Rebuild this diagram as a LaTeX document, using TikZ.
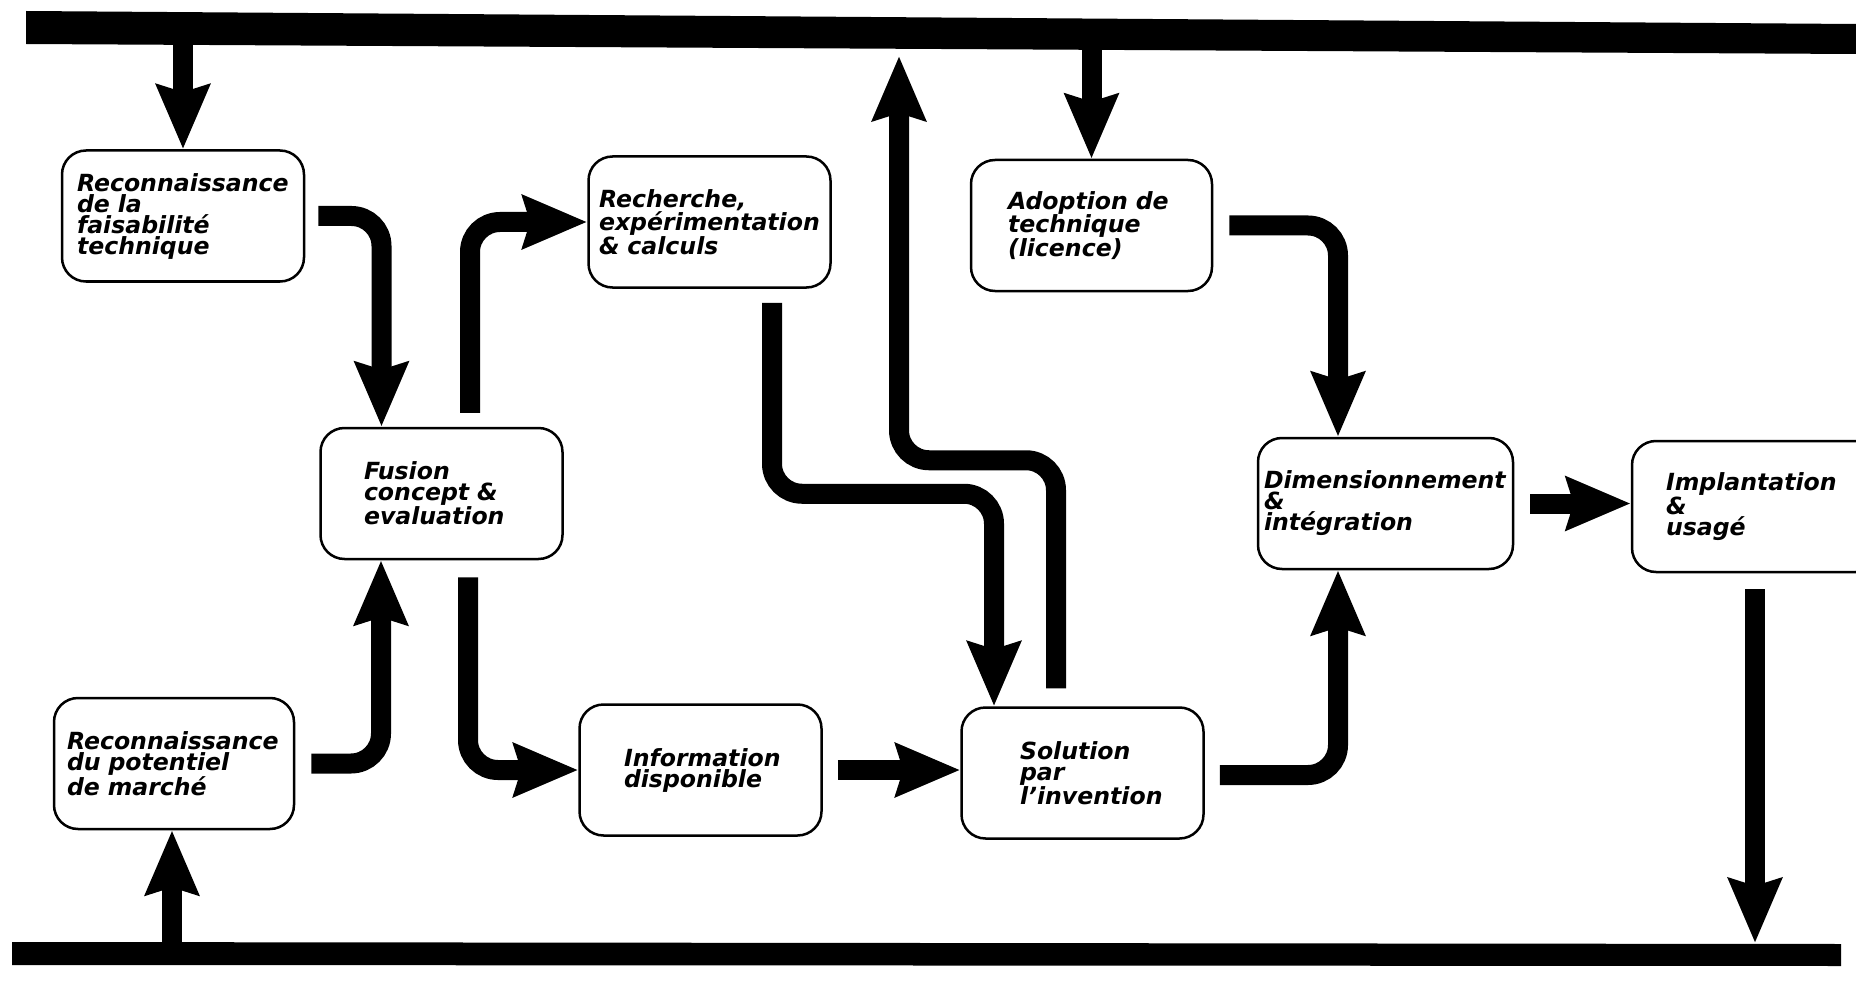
\documentclass[tikz,border=0pt]{standalone}
\usepackage{fontspec}
\setmainfont{DejaVu Sans}
\usetikzlibrary{arrows.meta}
\hyphenpenalty=10000
\exhyphenpenalty=10000
\begin{document}
\begin{tikzpicture}[x=1pt,y=-1pt,
  box/.style={draw, line width=2.5pt, rounded corners=24pt, minimum width=242pt,
    minimum height=131pt, inner sep=0pt, align=left,
    font=\fontsize{23.6}{21}\selectfont\bfseries\itshape},
  flow/.style={line width=20pt, rounded corners=30pt,
    -{Stealth[length=64pt,width=52pt,inset=7pt]}}]
\useasboundingbox (0,0) rectangle (1856,987);
\clip (0,0) rectangle (1856,987);
\fill[white] (0,0) rectangle (1856,987);

% bars
\fill (26,11) -- (1856,24) -- (1856,54) -- (26,44) -- cycle;
\fill (12,942) -- (1841,944) -- (1841,966) -- (12,965) -- cycle;

% boxes
\node[box, text width=212pt] (b1) at (183,216) {Reconnaissance\\de~la\\faisabilité\\technique};
\node[box, text width=155pt] (fus) at (441.5,493.5) {Fusion\\concept~\&\\evaluation};
\node[box, text width=221pt] (rech) at (709.5,222) {Recherche,\\expérimentation\\\&~calculs};
\node[box, minimum width=241pt, text width=167pt] (adop) at (1091.5,225.5) {Adoption~de\\technique\\(licence)};
\node[box, minimum width=255pt, text width=243pt] (dim) at (1385.5,503.5) {Dimensionnement\\\&\\intégration};
\node[box, minimum width=248pt, text width=180pt] (impl) at (1756,506.5) {Implantation\\\&\\usagé};
\node[box, minimum width=240pt, text width=214pt] (mkt) at (174,763.5) {Reconnaissance\\du~potentiel\\de~marché};
\node[box, text width=153pt] (info) at (700.5,770) {Information\\disponible};
\node[box, text width=125pt] (sol) at (1082.5,773) {Solution\\par\\l'invention};

% free ends on the bars
\coordinate (tA) at (183,40);
\coordinate (tJ) at (1091.5,48);
\coordinate (tI) at (899,56);
\coordinate (bF) at (172,946);
\coordinate (bN) at (1755,943);

% connectors
\draw[flow] (tA) -- (b1.north);
\draw[flow] (tJ) -- (adop.north);
\draw[flow] ([xshift=13pt]b1.east) -| ([xshift=-60pt]fus.north);
\draw[flow] ([xshift=28.5pt,yshift=14pt]fus.north) |- (rech.west);
\draw[flow] ([xshift=16pt]mkt.east) -| ([xshift=-60.5pt]fus.south);
\draw[flow] ([xshift=26.5pt,yshift=-17pt]fus.south) |- (info.west);
\draw[flow] (bF) -- (bF |- mkt.south);
\draw[flow] ([xshift=15pt]info.east) -- (info.east -| sol.west);
\draw[flow] ([xshift=62.5pt,yshift=-14pt]rech.south) -- ++(0,191) -| ([xshift=-88.5pt]sol.north);
\draw[flow] ([xshift=-26.5pt,yshift=18pt]sol.north) -- ++(0,-228) -| (tI);
\draw[flow] ([xshift=16pt]adop.east) -| ([xshift=-47.5pt]dim.north);
\draw[flow] ([xshift=15pt,yshift=-2pt]sol.east) -| ([xshift=-47.5pt]dim.south);
\draw[flow] ([xshift=16pt]dim.east) -- (dim.east -| impl.west);
\draw[flow] ([xshift=-1pt,yshift=-16pt]impl.south) -- (bN);
\end{tikzpicture}
\end{document}
